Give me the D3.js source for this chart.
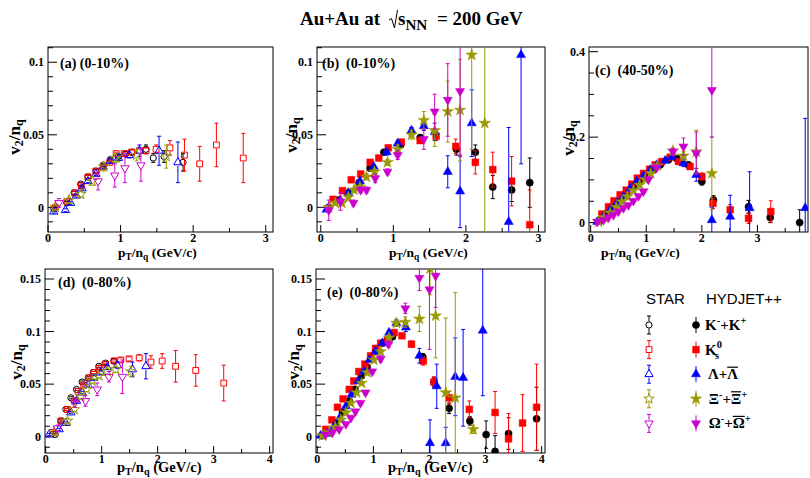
<!DOCTYPE html>
<html>
<head>
<meta charset="utf-8">
<script src="https://cdn.jsdelivr.net/npm/d3@7"></script>
<style>
body { margin: 0; background: #fff; }
svg { display: block; }
text { font-family: "Liberation Serif", "DejaVu Serif", serif; font-weight: bold; fill: #000; }
text.sans { font-family: "Liberation Sans", Arial, sans-serif; font-weight: normal; }
</style>
</head>
<body>
<div id="chart"></div>
<script>
// each point: [pT/nq, v2/nq, error]
// (a) STAR 0-10%
const a_kaon = [[0.08,-0.001,.001],[0.26,0.003,.001],[0.36,0.010,.001],[0.45,0.016,.001],[0.55,0.021,.001],[0.66,0.025,.001],[0.76,0.029,.001],[0.86,0.033,.001],[0.97,0.035,.001],[1.07,0.037,.0015],[1.16,0.038,.002],[1.35,0.040,.003],[1.45,0.034,.003],[1.60,0.035,.004],[1.86,0.031,.006]];
const a_k0s = [[0.10,0.000,.001],[0.26,0.004,.001],[0.37,0.010,.001],[0.46,0.015,.001],[0.55,0.021,.001],[0.66,0.025,.001],[0.76,0.028,.001],[0.85,0.031,.001],[0.94,0.037,.001],[1.05,0.037,.001],[1.15,0.038,.0015],[1.26,0.039,.002],[1.35,0.039,.002],[1.49,0.040,.003],[1.68,0.041,.005],[1.88,0.036,.011],[2.09,0.030,.012],[2.32,0.043,.015],[2.69,0.034,.017]];
const a_lambda = [[0.08,-0.003,.001],[0.24,-0.002,.001],[0.31,0.003,.001],[0.39,0.008,.001],[0.47,0.013,.001],[0.55,0.018,.001],[0.66,0.023,.001],[0.76,0.028,.0015],[0.86,0.032,.0015],[0.97,0.034,.002],[1.12,0.036,.002],[1.26,0.039,.004],[1.53,0.039,.010],[1.79,0.031,.014]];
const a_xi = [[0.10,0.000,.002],[0.29,0.005,.002],[0.45,0.009,.002],[0.61,0.018,.003],[0.77,0.028,.003],[0.93,0.034,.003],[1.22,0.036,.004],[1.63,0.035,.008]];
const a_omega = [[0.15,0.003,.003],[0.69,0.018,.006],[0.92,0.022,.008],[1.06,0.027,.010],[1.28,0.029,.011]];

// (b) HYDJET++ 0-10%
const b_kaon = [[0.11,0.000,.001],[0.25,0.005,.001],[0.38,0.010,.001],[0.53,0.017,.001],[0.68,0.027,.001],[0.87,0.038,.001],[1.10,0.043,.001],[1.37,0.048,.002],[1.87,0.040,.004],[2.13,0.038,.005],[2.37,0.014,.008],[2.63,0.012,.008],[2.88,0.017,.017]];
const b_k0s = [[0.17,0.0055,.001],[0.30,0.0115,.001],[0.42,0.019,.001],[0.55,0.023,.001],[0.68,0.031,.001],[0.80,0.034,.001],[0.93,0.041,.001],[1.11,0.045,.001],[1.37,0.046,.002],[1.59,0.049,.003],[1.86,0.042,.005],[2.13,0.031,.008],[2.37,0.026,.012],[2.63,0.018,.017],[2.88,-0.012,.024]];
const b_lambda = [[0.08,-0.0015,.001],[0.27,0.005,.001],[0.38,0.010,.001],[0.54,0.018,.001],[0.73,0.028,.001],[0.91,0.038,.002],[1.06,0.044,.002],[1.25,0.053,.002],[1.42,0.056,.003],[1.57,0.052,.006],[1.75,0.0245,.011],[1.92,0.011,.025],[2.08,0.058,.023],[2.59,-0.010,.065],[2.76,0.105,.075]];
const b_xi = [[0.11,0.000,.001],[0.20,0.003,.001],[0.29,0.003,.002],[0.38,0.007,.002],[0.46,0.012,.002],[0.54,0.014,.002],[0.63,0.021,.002],[0.74,0.0245,.002],[0.92,0.031,.002],[1.06,0.040,.003],[1.25,0.050,.003],[1.42,0.060,.006],[1.57,0.053,.011],[1.75,0.066,.021],[1.92,0.067,.035],[2.08,0.105,.065],[2.26,0.058,.12]];
const b_omega = [[0.11,-0.002,.007],[0.27,0.004,.006],[0.45,0.003,.002],[0.55,0.012,.002],[0.63,0.012,.002],[0.75,0.020,.003],[0.92,0.0245,.002],[1.06,0.036,.003],[1.42,0.047,.007],[1.57,0.066,.012],[1.75,0.074,.025],[1.92,0.080,.045]];

// (c) HYDJET++ 40-50%
const c_kaon = [[0.17,0.006,.002],[0.29,0.022,.002],[0.41,0.037,.002],[0.53,0.053,.002],[0.65,0.067,.002],[0.77,0.083,.002],[0.89,0.098,.002],[1.01,0.112,.002],[1.13,0.123,.002],[1.25,0.135,.003],[1.40,0.147,.003],[1.55,0.150,.004],[1.76,0.135,.006],[2.00,0.096,.008],[2.21,0.053,.010],[2.84,0.037,.015],[3.23,0.012,.012],[3.76,0.000,.030]];
const c_k0s = [[0.20,0.020,.002],[0.32,0.037,.002],[0.42,0.051,.002],[0.53,0.065,.002],[0.64,0.076,.002],[0.74,0.090,.002],[0.84,0.104,.002],[0.95,0.115,.002],[1.06,0.125,.002],[1.16,0.135,.002],[1.28,0.143,.003],[1.43,0.153,.003],[1.58,0.143,.004],[1.79,0.131,.005],[2.00,0.108,.008],[2.20,0.045,.012],[2.51,0.030,.012],[2.84,0.010,.012],[3.24,0.026,.025]];
const c_lambda = [[0.12,0.002,.002],[0.23,0.014,.002],[0.35,0.030,.002],[0.47,0.045,.002],[0.59,0.061,.002],[0.71,0.080,.002],[0.83,0.096,.002],[0.95,0.109,.002],[1.07,0.123,.003],[1.19,0.135,.003],[1.34,0.145,.004],[1.46,0.154,.005],[1.67,0.139,.008],[1.90,0.112,.015],[2.18,0.006,.030],[2.51,0.014,.050],[2.86,0.034,.085],[3.86,0.034,.210]];
const c_xi = [[0.14,0.002,.002],[0.24,0.012,.002],[0.35,0.023,.002],[0.46,0.036,.002],[0.56,0.049,.002],[0.66,0.061,.002],[0.77,0.075,.002],[0.88,0.088,.003],[0.98,0.101,.003],[1.08,0.115,.003],[1.20,0.133,.004],[1.48,0.168,.006],[1.67,0.156,.010],[1.90,0.166,.050],[2.18,0.115,.085]];
const c_omega = [[0.12,0.002,.002],[0.23,0.006,.002],[0.32,0.012,.002],[0.41,0.018,.002],[0.50,0.026,.002],[0.59,0.034,.002],[0.68,0.041,.002],[0.77,0.051,.003],[0.86,0.062,.003],[0.95,0.073,.003],[1.04,0.101,.004],[1.19,0.129,.005],[1.48,0.166,.008],[1.67,0.178,.020],[1.90,0.162,.050],[2.18,0.310,.110]];

// (d) STAR 0-80%
const d_kaon = [[0.17,0.002,.001],[0.27,0.015,.001],[0.36,0.026,.001],[0.45,0.037,.001],[0.55,0.045,.001],[0.65,0.052,.001],[0.76,0.056,.001],[0.85,0.061,.001],[0.95,0.067,.001],[1.07,0.070,.0015],[1.22,0.072,.002]];
const d_k0s = [[0.12,0.004,.001],[0.27,0.015,.001],[0.39,0.026,.001],[0.51,0.034,.001],[0.58,0.043,.001],[0.68,0.049,.001],[0.77,0.056,.001],[0.86,0.061,.001],[0.95,0.065,.001],[1.06,0.069,.001],[1.22,0.072,.001],[1.34,0.073,.002],[1.49,0.074,.002],[1.67,0.075,.003],[1.88,0.071,.006],[2.08,0.072,.007],[2.32,0.067,.015],[2.68,0.063,.015],[3.18,0.051,.017]];
const d_lambda = [[0.06,0.002,.001],[0.24,0.007,.001],[0.36,0.013,.001],[0.45,0.023,.001],[0.55,0.034,.001],[0.65,0.042,.001],[0.76,0.049,.001],[0.86,0.056,.002],[0.98,0.061,.002],[1.10,0.066,.002],[1.28,0.068,.003],[1.55,0.064,.007],[1.79,0.067,.012]];
const d_xi = [[0.15,0.004,.002],[0.39,0.015,.002],[0.51,0.026,.002],[0.63,0.038,.002],[0.73,0.045,.002],[0.83,0.053,.002],[0.95,0.058,.002],[1.10,0.062,.003],[1.25,0.064,.003],[1.52,0.062,.005]];
const d_omega = [[0.21,0.008,.003],[0.52,0.032,.004],[0.71,0.034,.005],[0.92,0.045,.006],[1.13,0.057,.005],[1.37,0.057,.016]];

// (e) HYDJET++ 0-80%
const e_kaon = [[0.08,0.001,.001],[0.21,0.004,.001],[0.33,0.013,.001],[0.45,0.023,.001],[0.57,0.034,.001],[0.67,0.045,.001],[0.79,0.058,.001],[0.89,0.066,.001],[1.04,0.081,.001],[1.16,0.089,.001],[1.34,0.095,.002],[1.88,0.076,.003],[2.08,0.052,.004],[2.35,0.027,.005],[2.72,0.015,.004],[3.01,0.002,.013],[3.17,-0.014,.015],[3.41,0.003,.015],[3.91,0.017,.030]];
const e_k0s = [[0.15,0.007,.001],[0.26,0.016,.001],[0.36,0.028,.001],[0.46,0.036,.001],[0.57,0.045,.001],[0.65,0.053,.001],[0.74,0.062,.001],[0.85,0.069,.001],[0.95,0.077,.001],[1.04,0.084,.001],[1.13,0.089,.001],[1.25,0.092,.001],[1.37,0.099,.002],[1.51,0.096,.002],[1.68,0.088,.003],[1.89,0.072,.004],[2.08,0.052,.005],[2.35,0.037,.006],[2.71,0.026,.008],[3.17,0.023,.020],[3.41,-0.002,.024],[3.66,0.013,.027],[3.91,0.028,.041]];
const e_lambda = [[0.06,0.001,.001],[0.18,0.003,.001],[0.30,0.010,.001],[0.40,0.018,.001],[0.51,0.029,.001],[0.61,0.040,.001],[0.73,0.053,.001],[0.83,0.062,.001],[0.93,0.073,.001],[1.04,0.081,.002],[1.16,0.089,.002],[1.28,0.099,.002],[1.41,0.108,.003],[1.58,0.104,.004],[1.82,0.077,.007],[2.01,-0.006,.022],[2.13,0.048,.021],[2.29,-0.006,.015],[2.46,0.057,.037],[2.60,0.056,.046],[2.95,0.101,.062]];
const e_xi = [[0.09,0.001,.001],[0.21,0.004,.001],[0.32,0.009,.001],[0.42,0.016,.001],[0.51,0.023,.001],[0.60,0.032,.001],[0.70,0.042,.001],[0.79,0.051,.001],[0.89,0.061,.002],[1.01,0.073,.002],[1.13,0.081,.002],[1.28,0.094,.003],[1.41,0.108,.003],[1.57,0.109,.005],[1.82,0.112,.012],[2.01,0.160,.025],[2.11,0.115,.040],[2.29,0.042,.071],[2.46,0.037,.100],[2.78,0.007,.004]];
const e_omega = [[0.15,0.002,.001],[0.27,0.004,.001],[0.39,0.007,.001],[0.51,0.012,.001],[0.60,0.018,.001],[0.68,0.024,.001],[0.77,0.032,.002],[0.86,0.042,.002],[0.98,0.062,.002],[1.13,0.074,.003],[1.27,0.088,.003],[1.57,0.122,.005],[1.82,0.151,.012],[2.00,0.140,.057],[2.11,0.153,.030]];

const species = ['kaon', 'k0s', 'lambda', 'xi', 'omega'];
const colors = { kaon: '#000000', k0s: '#ff0000', lambda: '#0000ff', xi: '#999900', omega: '#cc00cc' };

const xTicks = [0, 1, 2, 3];
const xTicksWide = [0, 1, 2, 3, 4];
const yTicksTop = [0, 0.05, 0.1];
const yTicksC = [0, 0.2, 0.4];
const yTicksBottom = [0, 0.05, 0.1, 0.15];

const W = 810, H = 478;
const svg = d3.select('#chart').append('svg').attr('width', W).attr('height', H);

function rich(g, x, y, parts, size, subShift) {
  const t = g.append('text').attr('x', x).attr('y', y).attr('font-size', size);
  let shift = 0;
  parts.forEach(p => {
    const s = p[1] === 'sup' ? -0.42 * size : p[1] === 'sub' ? (subShift || 0.3) * size : 0;
    const ts = t.append('tspan').text(p[0]).attr('dy', s - shift);
    if (p[2]) ts.attr('dx', p[2]);
    if (s) ts.attr('font-size', size * (p[3] || 0.7));
    shift = s;
  });
  return t;
}

function symbolFor(sp, open) {
  const types = { kaon: d3.symbolCircle, k0s: d3.symbolSquare, lambda: d3.symbolTriangle, xi: d3.symbolStar, omega: d3.symbolTriangle };
  const sizes = open
    ? { kaon: 30, k0s: 34, lambda: 30, xi: 34, omega: 30 }
    : { kaon: 40, k0s: 46, lambda: 36, xi: 42, omega: 36 };
  return d3.symbol().type(types[sp]).size(sizes[sp])();
}

function drawMarker(g, sp, open, cx, cy) {
  g.append('path')
    .attr('d', symbolFor(sp, open))
    .attr('transform', 'translate(' + cx + ',' + cy + ')' + (sp === 'omega' ? ' rotate(180)' : ''))
    .attr('fill', open ? 'none' : colors[sp])
    .attr('stroke', colors[sp])
    .attr('stroke-width', open ? 1 : 0.5);
}

function errBar(g, sp, open, cx, cy, top, bottom) {
  const gap = open ? 3.5 : 0;
  const c = colors[sp];
  if (cy - gap > top) g.append('line').attr('x1', cx).attr('x2', cx).attr('y1', top).attr('y2', cy - gap).attr('stroke', c).attr('stroke-width', 1);
  if (cy + gap < bottom) g.append('line').attr('x1', cx).attr('x2', cx).attr('y1', cy + gap).attr('y2', bottom).attr('stroke', c).attr('stroke-width', 1);
  [top, bottom].forEach(v => g.append('line').attr('x1', cx - 2).attr('x2', cx + 2).attr('y1', v).attr('y2', v).attr('stroke', c).attr('stroke-width', 1));
}

const panels = [
  { id: 'a', box: [48, 273, 47, 232], xd: [0, 3.1], yd: [-0.017, 0.1105], xt: xTicks, yt: yTicksTop, ym: 0.01,
    open: true, data: [a_kaon, a_k0s, a_lambda, a_xi, a_omega], label: '(a) (0-10%)', lp: [60, 68], yl: [14, 137], xl: [118, 257], xs: 13.5 },
  { id: 'b', box: [317, 545, 47, 232], xd: [-0.052, 3.09], yd: [-0.017, 0.1105], xt: xTicks, yt: yTicksTop, ym: 0.01,
    open: false, data: [b_kaon, b_k0s, b_lambda, b_xi, b_omega], label: '(b)  (0-10%)', lp: [322, 68], yl: [291, 135], xl: [389, 257], xs: 13.5 },
  { id: 'c', box: [589, 808, 47, 232], xd: [-0.03, 3.91], yd: [-0.022, 0.411], xt: xTicks, yt: yTicksC, ym: 0.05,
    open: false, data: [c_kaon, c_k0s, c_lambda, c_xi, c_omega], label: '(c)  (40-50%)', lp: [595, 75], yl: [568, 138], xl: [601, 257], xs: 13.5 },
  { id: 'd', box: [45, 273, 269, 453], xd: [-0.0125, 4.06], yd: [-0.0155, 0.1595], xt: xTicksWide, yt: yTicksBottom, ym: 0.01,
    open: true, data: [d_kaon, d_k0s, d_lambda, d_xi, d_omega], label: '(d)  (0-80%)', lp: [58, 287], yl: [16, 362], xl: [117, 472], xs: 14.5 },
  { id: 'e', box: [316, 545, 269, 453], xd: [-0.023, 4.06], yd: [-0.0155, 0.1595], xt: xTicksWide, yt: yTicksBottom, ym: 0.01,
    open: false, data: [e_kaon, e_k0s, e_lambda, e_xi, e_omega], label: '(e)  (0-80%)', lp: [327, 297], yl: [293, 362], xl: [388, 472], xs: 14.5 }
];

panels.forEach(p => {
  const [l, r, t, b] = p.box;
  const x = d3.scaleLinear().domain(p.xd).range([l, r]);
  const y = d3.scaleLinear().domain(p.yd).range([b, t]);
  const g = svg.append('g');

  g.append('clipPath').attr('id', 'clip-' + p.id)
    .append('rect').attr('x', l).attr('y', t).attr('width', r - l).attr('height', b - t);

  // frame
  g.append('rect').attr('x', l).attr('y', t).attr('width', r - l).attr('height', b - t)
    .attr('fill', 'none').attr('stroke', '#000').attr('stroke-width', 1);

  // y ticks: major + minor
  const yMinor = d3.range(Math.ceil(p.yd[0] / p.ym), Math.floor(p.yd[1] / p.ym) + 1).map(k => k * p.ym);
  yMinor.forEach(v => {
    const major = p.yt.some(m => Math.abs(m - v) < 1e-9);
    g.append('line').attr('x1', l).attr('x2', l + (major ? 9 : 5))
      .attr('y1', y(v)).attr('y2', y(v)).attr('stroke', '#000');
  });
  p.yt.forEach(v => {
    g.append('text').attr('x', l - 4).attr('y', y(v)).attr('dy', '0.35em')
      .attr('text-anchor', 'end').attr('font-size', 12).text(v === 0 ? '0' : String(v));
  });

  // x ticks
  const xMinor = d3.range(0, p.xd[1], 0.5);
  xMinor.forEach(v => {
    const major = Number.isInteger(v);
    g.append('line').attr('x1', x(v)).attr('x2', x(v))
      .attr('y1', b).attr('y2', b - (major ? 7 : 4)).attr('stroke', '#000');
  });
  p.xt.forEach(v => {
    g.append('text').attr('x', x(v)).attr('y', b + 10)
      .attr('text-anchor', 'middle').attr('font-size', 12).text(v);
  });

  // titles
  rich(g, p.xl[0], p.xl[1], [['p'], ['T', 'sub'], ['/n'], ['q', 'sub'], [' (GeV/c)']], p.xs, 0.2);
  const yg = g.append('g').attr('transform', 'translate(' + p.yl[0] + ',' + p.yl[1] + ') rotate(-90)');
  rich(yg, 0, 0, [['v'], ['2', 'sub'], ['/n'], ['q', 'sub']], 17)
    .attr('text-anchor', 'middle').attr('dominant-baseline', 'central');
  g.append('text').attr('x', p.lp[0]).attr('y', p.lp[1]).attr('font-size', 14)
    .attr('xml:space', 'preserve').style('white-space', 'pre').text(p.label);

  // points
  const pg = g.append('g').attr('clip-path', 'url(#clip-' + p.id + ')');
  p.data.forEach((series, i) => {
    const sp = species[i];
    series.forEach(d => {
      const cx = x(d[0]), cy = y(d[1]);
      errBar(pg, sp, p.open, cx, cy, y(d[1] + d[2]), y(d[1] - d[2]));
    });
    series.forEach(d => drawMarker(pg, sp, p.open, x(d[0]), y(d[1])));
  });
});

// title
svg.append('text').attr('x', 300).attr('y', 25).attr('font-size', 19).text('Au+Au at');
svg.append('path').attr('d', 'M389,20 L391.5,18.5 L394.5,28 L397.5,10')
  .attr('fill', 'none').attr('stroke', '#000').attr('stroke-width', 1);
rich(svg, 398, 25, [['s'], ['NN', 'sub', 0, 0.8]], 19, 0.25);
svg.append('text').attr('x', 437).attr('y', 25).attr('font-size', 19).text('= 200 GeV');

// legend
const legendRows = [
  [['K'], ['-', 'sup'], ['+K'], ['+', 'sup']],
  [['K'], ['0', 'sup'], ['s', 'sub', -7]],
  [[' Λ+Λ']],
  [[' Ξ'], ['-', 'sup'], ['+Ξ'], ['+', 'sup']],
  [[' Ω'], ['-', 'sup'], ['+Ω'], ['+', 'sup']]
];
const barIndex = [null, null, 3, 4, 4];
svg.append('text').attr('class', 'sans').attr('x', 646).attr('y', 304).attr('font-size', 15).text('STAR');
svg.append('text').attr('class', 'sans').attr('x', 706).attr('y', 304).attr('font-size', 15).text('HYDJET++');
const lg = svg.append('g');
species.forEach((sp, i) => {
  const ry = 325 + i * 24.6;
  errBar(lg, sp, true, 649, ry, ry - 9, ry + 9);
  drawMarker(lg, sp, true, 649, ry);
  lg.append('line').attr('x1', 696).attr('x2', 696).attr('y1', ry - 8).attr('y2', ry + 8).attr('stroke', colors[sp]);
  drawMarker(lg, sp, false, 696, ry);
  const t = rich(lg, 705, ry + 5, legendRows[i], 15);
  t.attr('xml:space', 'preserve').style('white-space', 'pre');
  if (barIndex[i] !== null) {
    const bb = t.node().getExtentOfChar(barIndex[i]);
    lg.append('line').attr('x1', bb.x).attr('x2', bb.x + bb.width)
      .attr('y1', bb.y + 1).attr('y2', bb.y + 1).attr('stroke', '#000').attr('stroke-width', 1.2);
  }
});
</script>
</body>
</html>
